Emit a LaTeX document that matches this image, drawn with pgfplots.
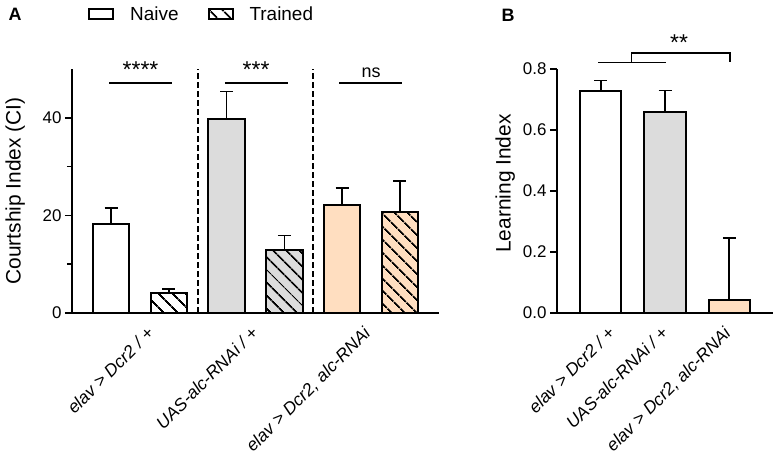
\documentclass[border=0pt]{standalone}
\usepackage{pgfplots}
\pgfplotsset{compat=1.18}
\usepackage{fontspec}
\setmainfont{Liberation Sans}
\usetikzlibrary{patterns.meta}
\definecolor{lgray}{RGB}{220,220,220}
\definecolor{peach}{RGB}{255,222,192}
\newcommand{\tickfont}{\fontsize{17}{20}\selectfont}
\newcommand{\xlabfont}{\fontsize{17.5}{20}\selectfont}
\begin{document}
\begin{tikzpicture}
\useasboundingbox (0,0) rectangle (777bp,458bp);
\pgfplotsset{
  hatch/.style={postaction={pattern={Lines[angle=-45,distance=9.5bp,line width=1.9bp]}}},
  mybar/.style={ybar, bar shift=0pt, draw=black, line width=2bp,
    error bars/y dir=plus, error bars/y explicit,
    error bars/error bar style={line width=1.7bp, black},
    error bars/error mark options={rotate=90, mark size=6.5bp, line width=1.7bp, black},
    legend image code/.code={\draw[##1] (0bp,-5bp) rectangle (24bp,5bp);}},
  myaxis/.style={scale only axis, anchor=south west,
    axis x line*=bottom, axis y line*=left,
    axis line style={line width=2bp, black},
    tick align=outside, major tick length=7bp, minor tick length=5bp,
    every tick/.style={black, line width=1.7bp},
    x tick style={draw=none},
    yticklabel style={font=\tickfont},
    xticklabel style={font=\xlabfont\itshape, xshift=-11bp, yshift=-5.5bp, rotate=45, anchor=north east, inner sep=0pt},
    /pgf/number format/assume math mode=true,
    clip=false},
}
\begin{axis}[myaxis,
  at={(72bp,145bp)}, width=367bp, height=244bp,
  xmin=-0.676, xmax=5.676, ymin=0, ymax=50,
  ytick={0,20,40}, minor ytick={10,30},
  xtick={0.792,2.596,4.541},
  xticklabels={{elav > Dcr2 / +},{UAS-alc-RNAi / +},{elav > Dcr2, alc-RNAi}},
  ylabel={Courtship Index (CI)},
  ylabel style={font=\fontsize{21}{24}\selectfont, at={(rel axis cs:-0.155,0.5)}, anchor=center},
  legend style={draw=none, fill=none, at={(rel axis cs:0.0436,1.225)}, anchor=west,
    inner sep=0pt, font=\fontsize{19}{22}\selectfont,
    /tikz/every odd column/.append style={column sep=14bp},
    /tikz/every even column/.append style={column sep=27bp}},
  legend columns=2,
]
\addplot[mybar, bar width=36.5bp, fill=white] coordinates {(0,18.2) +- (0,3.3)};
\addlegendentry{Naive}
\addplot[mybar, bar width=36.5bp, fill=white, hatch] coordinates {(1,4.1) +- (0,0.8)};
\addlegendentry{Trained}
\addplot[mybar, bar width=36.5bp, fill=lgray, forget plot] coordinates {(2,39.7) +- (0,5.7)};
\addplot[mybar, bar width=36.5bp, fill=lgray, hatch, forget plot] coordinates {(3,12.85) +- (0,3.05)};
\addplot[mybar, bar width=36.5bp, fill=peach, forget plot] coordinates {(4,22.2) +- (0,3.4)};
\addplot[mybar, bar width=36.5bp, fill=peach, hatch, forget plot] coordinates {(5,20.7) +- (0,6.4)};
\addplot[black, line width=2.3bp, dash pattern=on 5.5bp off 3.5bp, forget plot] coordinates {(1.5,0) (1.5,50)};
\addplot[black, line width=2.3bp, dash pattern=on 5.5bp off 3.5bp, forget plot] coordinates {(3.5,0) (3.5,50)};
\addplot[black, line width=1.7bp, forget plot] coordinates {(-0.03,47.2) (1.05,47.2)};
\addplot[black, line width=1.7bp, forget plot] coordinates {(1.97,47.2) (3.06,47.2)};
\addplot[black, line width=1.7bp, forget plot] coordinates {(3.95,47.2) (5.04,47.2)};
\node[anchor=base, font=\fontsize{23}{24}\selectfont] at (axis cs:0.51,48.3) {****};
\node[anchor=base, font=\fontsize{23}{24}\selectfont] at (axis cs:2.51,48.3) {***};
\node[anchor=base, font=\fontsize{18}{20}\selectfont] at (axis cs:4.5,48.3) {ns};
\end{axis}
\begin{axis}[myaxis,
  at={(557bp,145.3bp)}, width=216bp, height=243.7bp,
  xmin=-0.68, xmax=2.68, ymin=0, ymax=0.8,
  ytick={0,0.2,0.4,0.6,0.8},
  yticklabel style={/pgf/number format/.cd, fixed, fixed zerofill, precision=1},
  xtick={0.269,1.094,2.069},
  xticklabels={{elav > Dcr2 / +},{UAS-alc-RNAi / +},{elav > Dcr2, alc-RNAi}},
  ylabel={Learning Index},
  ylabel style={font=\fontsize{21}{24}\selectfont, at={(rel axis cs:-0.24,0.53)}, anchor=center},
]
\addplot[mybar, bar width=41.3bp, fill=white] coordinates {(0,0.729) +- (0,0.033)};
\addplot[mybar, bar width=41.3bp, fill=lgray] coordinates {(1,0.658) +- (0,0.071)};
\addplot[mybar, bar width=41.3bp, fill=peach] coordinates {(2,0.043) +- (0,0.203)};
\addplot[black, line width=1.7bp] coordinates {(-0.04,0.821) (1.01,0.821)};
\addplot[black, line width=1.7bp] coordinates {(0.48,0.821) (0.48,0.853) (2.01,0.853) (2.01,0.824)};
\node[anchor=base, font=\fontsize{23}{24}\selectfont] at (axis cs:1.22,0.862) {**};
\end{axis}
\node[anchor=base west, font=\bfseries\fontsize{18}{20}\selectfont] at (5bp,437bp) {A};
\node[anchor=base west, font=\bfseries\fontsize{18}{20}\selectfont] at (498bp,436bp) {B};
\end{tikzpicture}
\end{document}
